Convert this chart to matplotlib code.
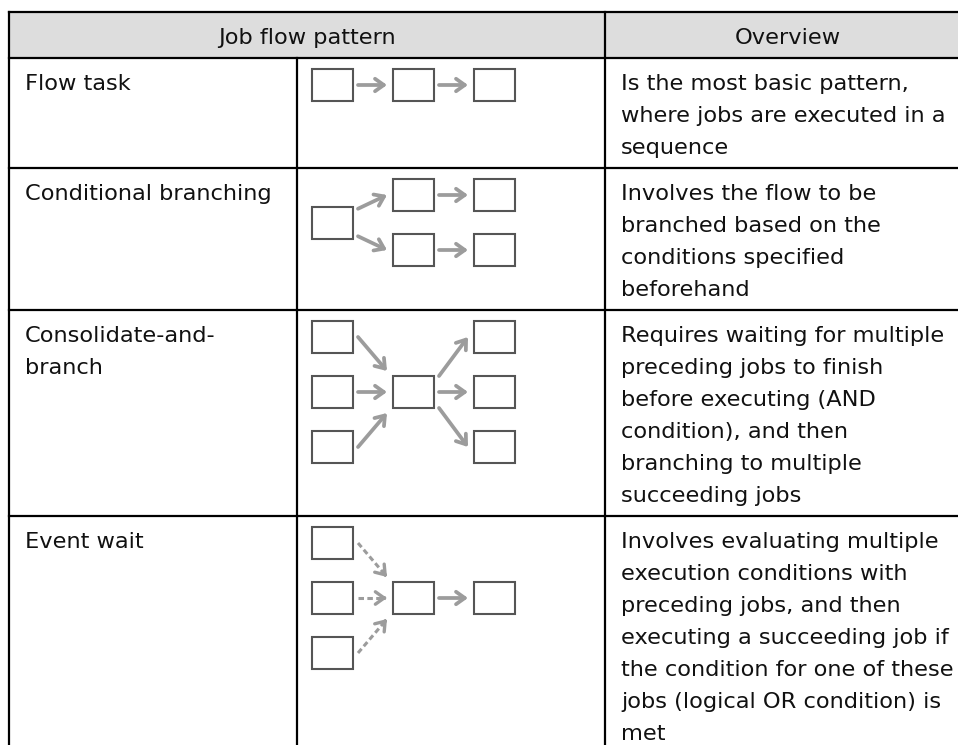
import matplotlib.pyplot as plt
from matplotlib.patches import Rectangle, FancyArrowPatch
import numpy as np

# --- table content ---
headers = ["Job flow pattern", "Overview"]
patterns = [["Flow task"],
            ["Conditional branching"],
            ["Consolidate-and-", "branch"],
            ["Event wait"]]
overviews = [
    ["Is the most basic pattern,", "where jobs are executed in a", "sequence"],
    ["Involves the flow to be", "branched based on the", "conditions specified",
     "beforehand"],
    ["Requires waiting for multiple", "preceding jobs to finish",
     "before executing (AND", "condition), and then", "branching to multiple",
     "succeeding jobs"],
    ["Involves evaluating multiple", "execution conditions with",
     "preceding jobs, and then", "executing a succeeding job if",
     "the condition for one of these", "jobs (logical OR condition) is", "met"],
]

# --- flow diagrams: nodes on a (column, half-row) grid, edges (src, dst, dashed) ---
diagrams = [
    {"nodes": [(0, 0), (1, 0), (2, 0)],
     "edges": [(0, 1, False), (1, 2, False)]},
    {"nodes": [(0, 1), (1, 0), (2, 0), (1, 2), (2, 2)],
     "edges": [(0, 1, False), (0, 3, False), (1, 2, False), (3, 4, False)]},
    {"nodes": [(0, 0), (0, 2), (0, 4), (1, 2), (2, 0), (2, 2), (2, 4)],
     "edges": [(0, 3, False), (1, 3, False), (2, 3, False),
               (3, 4, False), (3, 5, False), (3, 6, False)]},
    {"nodes": [(0, 0), (0, 2), (0, 4), (1, 2), (2, 2)],
     "edges": [(0, 3, True), (1, 3, True), (2, 3, True), (3, 4, False)]},
]

# --- layout (pixels) ---
W, H = 958, 745
x_cols = [9, 297, 605, 971]
top = 12
line_h = 32
pad = 7
base_off = 25
text_pad = 16
font = ["DejaVu Sans"]
fs = 16.2

box_w, box_h = 41, 32
col_pitch, row_pitch = 81, 27.5
grid_x0, grid_y0 = 15, 11

line_kw = dict(color="black", lw=1.6, solid_capstyle="projecting", zorder=5)
arrow_col = "#9c9c9c"
box_col = "#555555"

fig = plt.figure(figsize=(W / 100, H / 100), dpi=100)
ax = fig.add_axes([0, 0, 1, 1])
ax.set_xlim(0, W)
ax.set_ylim(H, 0)
ax.axis("off")

# header
head_h = line_h + 2 * pad
ax.add_patch(Rectangle((x_cols[0], top), x_cols[3] - x_cols[0], head_h,
                       facecolor="#dddddd", edgecolor="none", zorder=1))
ax.text((x_cols[0] + x_cols[2]) / 2, top + pad + base_off, headers[0],
        ha="center", va="baseline", fontsize=fs, family=font, color="#111111")
ax.text((x_cols[2] + x_cols[3]) / 2, top + pad + base_off, headers[1],
        ha="center", va="baseline", fontsize=fs, family=font, color="#111111")

# row boundaries from number of text lines
row_tops = [top, top + head_h]
for lines in overviews:
    row_tops.append(row_tops[-1] + len(lines) * line_h + 2 * pad)

bottom = max(row_tops[-1], H + 10)
for y in row_tops[:-1]:
    ax.plot([x_cols[0], x_cols[3]], [y, y], **line_kw)
ax.plot([x_cols[0], x_cols[0]], [top, bottom], **line_kw)
ax.plot([x_cols[2], x_cols[2]], [top, bottom], **line_kw)
ax.plot([x_cols[3], x_cols[3]], [top, bottom], **line_kw)
ax.plot([x_cols[1], x_cols[1]], [row_tops[1], bottom], **line_kw)


def draw_arrow(p0, p1, dashed):
    style = "->,head_length=0.45,head_width=0.32"
    if not dashed:
        ax.add_patch(FancyArrowPatch(p0, p1, arrowstyle=style, mutation_scale=14,
                                     color=arrow_col, lw=2.7, shrinkA=0, shrinkB=0,
                                     zorder=3))
        return
    p0, p1 = np.array(p0, float), np.array(p1, float)
    d = (p1 - p0) / np.hypot(*(p1 - p0))
    ax.plot([p0[0], p1[0] - 2 * d[0]], [p0[1], p1[1] - 2 * d[1]], color=arrow_col,
            lw=2.2, linestyle=(0, (1.8, 1.1)), zorder=3)
    ax.add_patch(FancyArrowPatch(tuple(p1 - 4 * d), tuple(p1), arrowstyle=style,
                                 mutation_scale=14, color=arrow_col, lw=2.4,
                                 shrinkA=0, shrinkB=0, zorder=3))


for r, (pat, ov, dg) in enumerate(zip(patterns, overviews, diagrams)):
    y0 = row_tops[r + 1]
    for i, s in enumerate(pat):
        ax.text(x_cols[0] + text_pad, y0 + pad + base_off + i * line_h, s,
                ha="left", va="baseline", fontsize=fs, family=font, color="#111111")
    for i, s in enumerate(ov):
        ax.text(x_cols[2] + text_pad, y0 + pad + base_off + i * line_h, s,
                ha="left", va="baseline", fontsize=fs, family=font, color="#111111")

    # diagram
    cx0 = x_cols[1] + grid_x0
    cy0 = y0 + grid_y0
    pos = [(cx0 + c * col_pitch, cy0 + rr * row_pitch) for c, rr in dg["nodes"]]
    for bx, by in pos:
        ax.add_patch(Rectangle((bx, by), box_w, box_h, facecolor="white",
                               edgecolor=box_col, lw=1.5, zorder=4))
    n_out = {}
    n_in = {}
    for s, d, _ in dg["edges"]:
        n_out[s] = n_out.get(s, 0) + 1
        n_in[d] = n_in.get(d, 0) + 1
    for s, d, dashed in dg["edges"]:
        sx, sy = pos[s]
        dx, dy = pos[d]
        scy, dcy = sy + box_h / 2, dy + box_h / 2
        diff = dcy - scy
        y_start, y_end = scy, dcy
        if n_out[s] > 1:
            y_start = scy + np.sign(diff) * min(abs(diff) / 2, 16)
        if n_in[d] > 1:
            y_end = dcy - np.sign(diff) * min(abs(diff) / 2, 21)
        draw_arrow((sx + box_w + 5, y_start), (dx - 6, y_end), dashed)

fig.savefig("out.png", dpi=100)
